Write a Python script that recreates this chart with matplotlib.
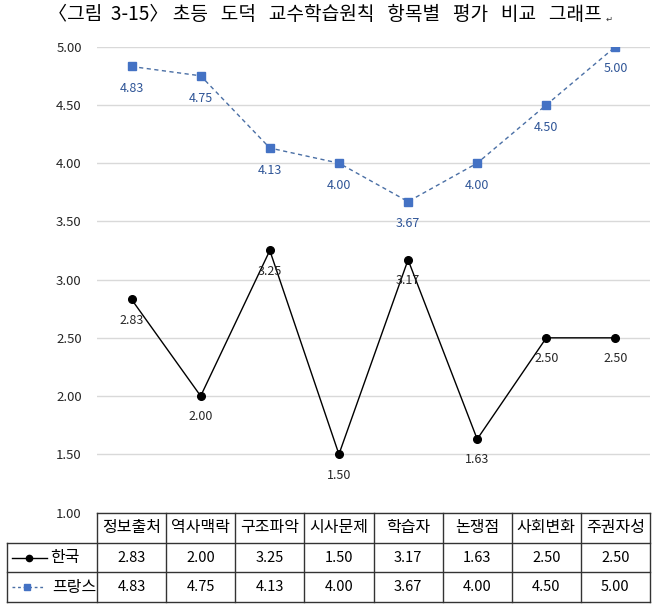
import matplotlib
matplotlib.use("Agg")
import matplotlib.pyplot as plt
from matplotlib.lines import Line2D

plt.rcParams['font.family'] = ['Noto Sans CJK KR', 'DejaVu Sans']

categories = ['정보출처', '역사맥락', '구조파악', '시사문제', '학습자', '논쟁점', '사회변화', '주권자성']
korea = [2.83, 2.00, 3.25, 1.50, 3.17, 1.63, 2.50, 2.50]
france = [4.83, 4.75, 4.13, 4.00, 3.67, 4.00, 4.50, 5.00]
series_names = ['한국', '프랑스']
y_ticks = [1.0, 1.5, 2.0, 2.5, 3.0, 3.5, 4.0, 4.5, 5.0]
title_words = ['초등', '도덕', '교수학습원칙', '항목별', '평가', '비교', '그래프']
title_prefix = '〈그림  3-15〉'

W, H = 658, 606
fig = plt.figure(figsize=(W / 100, H / 100), dpi=100)

def box(left, top, right, bottom):
    return [left / W, 1 - bottom / H, (right - left) / W, (bottom - top) / H]

# main plot
ax = fig.add_axes(box(97, 46.7, 650, 512.5))
x = list(range(len(categories)))
blue = '#4472C4'
blue_text = '#2F5597'
ax.plot(x, france, color='#4A6FA5', lw=1.0, ls=(0, (3, 2.5)),
        marker='s', ms=5.5, mfc=blue, mec=blue, zorder=3)
ax.plot(x, korea, color='black', lw=1.0, marker='o', ms=5.5,
        mfc='black', mec='black', zorder=3)
for i in x:
    ax.annotate(f'{france[i]:.2f}', (i, france[i]), xytext=(0, -16),
                textcoords='offset points', ha='center', va='center',
                fontsize=9, color=blue_text, fontweight='medium', zorder=4)
    ax.annotate(f'{korea[i]:.2f}', (i, korea[i]), xytext=(0, -15),
                textcoords='offset points', ha='center', va='center',
                fontsize=9, color='#262626', zorder=4)

ax.set_xlim(-0.5, len(categories) - 0.5)
ax.set_ylim(1, 5)
ax.set_yticks(y_ticks)
ax.set_yticklabels([f'{v:.2f}' for v in y_ticks], fontsize=9.5, color='#262626')
ax.set_xticks([])
ax.grid(axis='y', color='#D9D9D9', lw=1.0)
ax.set_axisbelow(True)
ax.tick_params(axis='y', length=0, pad=11)
for s in ax.spines.values():
    s.set_visible(False)

# data table under the plot
tab = fig.add_axes(box(7, 513, 650, 602))
col_w = (650 - 97) / len(categories)
leg_w = (97 - 7) / col_w
x0 = -0.5 - leg_w
tab.set_xlim(x0, len(categories) - 0.5)
tab.set_ylim(3, 0)
tab.axis('off')
lc = '#333333'
tab.plot([-0.5, len(categories) - 0.5], [0, 0], color=lc, lw=1.0, clip_on=False)
for r in [1, 2, 3]:
    tab.plot([x0, len(categories) - 0.5], [r, r], color=lc, lw=1.0, clip_on=False)
tab.plot([x0, x0], [1, 3], color=lc, lw=1.0, clip_on=False)
for c in range(len(categories) + 1):
    tab.plot([c - 0.5, c - 0.5], [0, 3], color=lc, lw=1.0, clip_on=False)

for i, name in enumerate(categories):
    tab.text(i, 0.5, name, ha='center', va='center', fontsize=11.5, color='black')
    tab.text(i, 1.5, f'{korea[i]:.2f}', ha='center', va='center', fontsize=10.5, color='black')
    tab.text(i, 2.5, f'{france[i]:.2f}', ha='center', va='center', fontsize=10.5, color='black')

# legend keys in first column
kx = [x0 + 0.07, x0 + 0.58]
tab.add_line(Line2D(kx, [1.5, 1.5], color='black', lw=1.0))
tab.plot([sum(kx) / 2], [1.5], marker='o', ms=4.5, color='black')
kx2 = [x0 + 0.07, x0 + 0.52]
tab.add_line(Line2D(kx2, [2.5, 2.5], color='#4A6FA5', lw=1.0, ls=(0, (2, 2))))
tab.plot([sum(kx2) / 2], [2.5], marker='s', ms=4.5, color=blue)
tab.text(x0 + 0.62, 1.5, series_names[0], ha='left', va='center', fontsize=11.5)
tab.text(x0 + 0.66, 2.5, series_names[1], ha='left', va='center', fontsize=11.5)

# title: fit words between x=50 and x=603 like the original
t = fig.text(48 / W, 1 - 15 / H, title_prefix + ' ' + '   '.join(title_words),
             ha='left', va='center', fontsize=14, color='black')
fig.canvas.draw()
tw = t.get_window_extent().width
if tw > 0:
    t.set_fontsize(14 * min(1.08, 555 / tw))
fig.text(606 / W, 1 - 19 / H, '↵', ha='left', va='center', fontsize=6, color='#333333',
         family=['DejaVu Sans'])

fig.savefig('out.png', dpi=100)
